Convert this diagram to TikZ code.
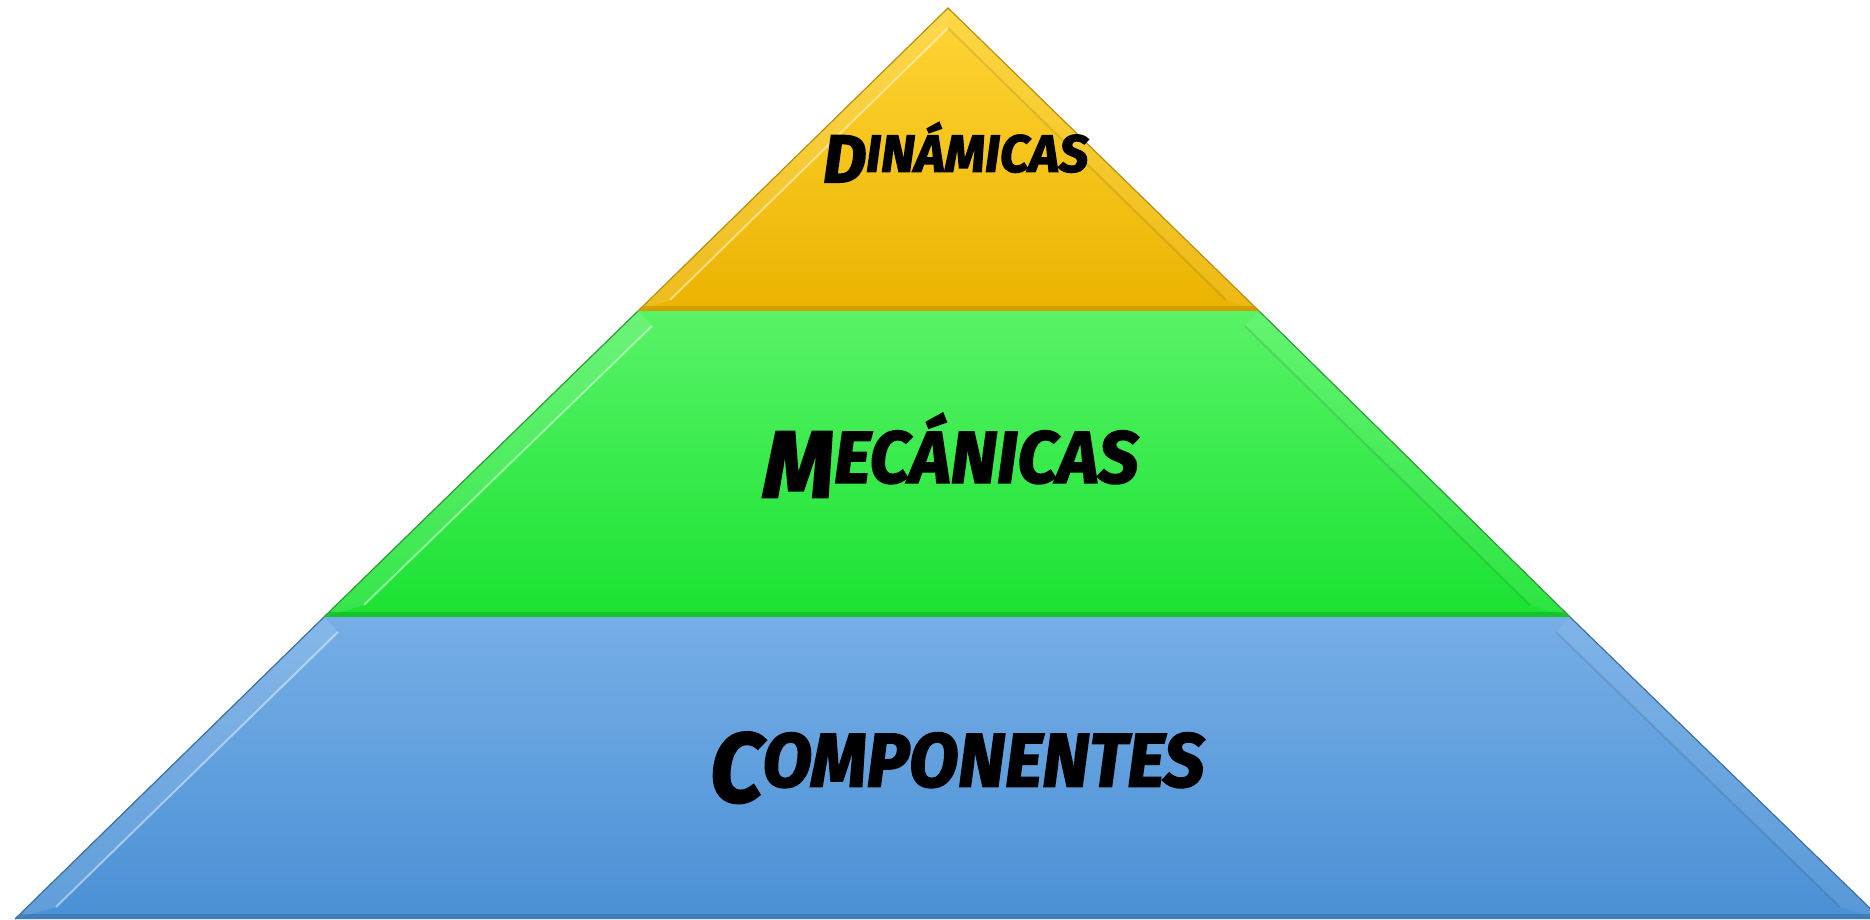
\documentclass[tikz,border=0pt]{standalone}
\usepackage{fontspec}
\setmainfont{Fira Sans}
\newfontfamily\pyrfont{Fira Sans}[FakeBold=2.5]
\usepackage{graphicx}
\usetikzlibrary{calc}
\definecolor{ytop}{HTML}{FFD535}
\definecolor{ybot}{HTML}{EBB300}
\definecolor{yedge}{HTML}{B8900E}
\definecolor{gtop}{HTML}{58F366}
\definecolor{gbot}{HTML}{1AE232}
\definecolor{gedge}{HTML}{2A9E34}
\definecolor{btop}{HTML}{76AEE6}
\definecolor{bbot}{HTML}{4A90D5}
\definecolor{bedge}{HTML}{3C6FA8}
% first letter larger, hanging below the baseline, its top level with the rest
\newcommand{\pyrword}[2]{\pyrfont\bfseries\itshape\raisebox{-6.2pt}{\fontsize{40}{40}\selectfont #1}{\fontsize{31}{31}\selectfont #2}}
\tikzset{
  layerlbl/.style={anchor=north west, inner sep=0pt, text=black},
  bevlight/.style={fill=white, fill opacity=0.12},
  bevline/.style={white, opacity=0.45, line width=2pt},
  bevdark/.style={black, opacity=0.10, line width=2pt},
}
\begin{document}
\begin{tikzpicture}[x=1pt,y=-1pt]
\useasboundingbox (0,0) rectangle (1870,920);
\clip (0,0) rectangle (1870,920);
% corners
\coordinate (A) at (948,8);
\coordinate (L1) at (638,311);
\coordinate (R1) at (1259,311);
\coordinate (L2) at (324,617);
\coordinate (R2) at (1570,617);
\coordinate (L3) at (15,919);
\coordinate (R3) at (1881,919);
% inner bevel points
\coordinate (yi) at (948,28);
\coordinate (yl) at (670,300);
\coordinate (yr) at (1226,300);
\coordinate (gtl) at (652,326);
\coordinate (gbl) at (364,605);
\coordinate (gtr) at (1245,326);
\coordinate (gbr) at (1530,605);
\coordinate (btl) at (338,632);
\coordinate (bbl) at (56,907);
\coordinate (btr) at (1556,632);
\coordinate (bbr) at (1840,907);

% ---------- yellow ----------
\shade[top color=ytop, bottom color=ybot] (A) -- (R1) -- (L1) -- cycle;
\fill[bevlight] (A) -- (yi) -- (yl) -- (L1) -- cycle;
\fill[white, fill opacity=0.08] (A) -- (yi) -- (yr) -- (R1) -- cycle;
\draw[bevline] (yi) -- (yl);
\draw[bevdark] (yi) -- (yr);
\fill[ybot!80!black, opacity=0.55] (L1) -- (R1) -- ($(R1)+(-6,-5)$) -- ($(L1)+(6,-5)$) -- cycle;
\draw[yedge, line width=1.2pt] (L1) -- (A) -- (R1);

% ---------- green ----------
\shade[top color=gtop, bottom color=gbot] (L1) -- (R1) -- (R2) -- (L2) -- cycle;
\fill[bevlight] (L1) -- (gtl) -- (gbl) -- (L2) -- cycle;
\fill[white, fill opacity=0.08] (R1) -- (gtr) -- (gbr) -- (R2) -- cycle;
\draw[bevline] (gtl) -- (gbl);
\draw[bevdark] (gtr) -- (gbr);
\fill[gbot!75!black, opacity=0.55] (L2) -- (R2) -- ($(R2)+(-6,-5)$) -- ($(L2)+(6,-5)$) -- cycle;
\draw[gedge, line width=1.2pt] (L2) -- (L1);
\draw[gedge, line width=1.2pt] (R1) -- (R2);

% ---------- blue ----------
\shade[top color=btop, bottom color=bbot] (L2) -- (R2) -- (R3) -- (L3) -- cycle;
\fill[bevlight] (L2) -- (btl) -- (bbl) -- (L3) -- cycle;
\fill[white, fill opacity=0.08] (R2) -- (btr) -- (bbr) -- (R3) -- cycle;
\draw[bevline] (btl) -- (bbl);
\draw[bevdark] (btr) -- (bbr);
\fill[bbot!75!black, opacity=0.55] (L3) -- (R3) -- ($(R3)+(-6,-5)$) -- ($(L3)+(6,-5)$) -- cycle;
\draw[bedge, line width=1.2pt] (L3) -- (L2);
\draw[bedge, line width=1.2pt] (R2) -- (R3);

% ---------- labels ----------
\node[layerlbl] (din) at (823,122) {\resizebox*{265pt}{60pt}{\pyrword{D}{INÁMICAS}}};
\node[layerlbl] (mec) at (763,413) {\resizebox*{375pt}{84pt}{\pyrword{M}{ECÁNICAS}}};
\node[layerlbl] (com) at (710,732) {\resizebox*{494pt}{71pt}{\pyrword{C}{OMPONENTES}}};
\end{tikzpicture}
\end{document}
